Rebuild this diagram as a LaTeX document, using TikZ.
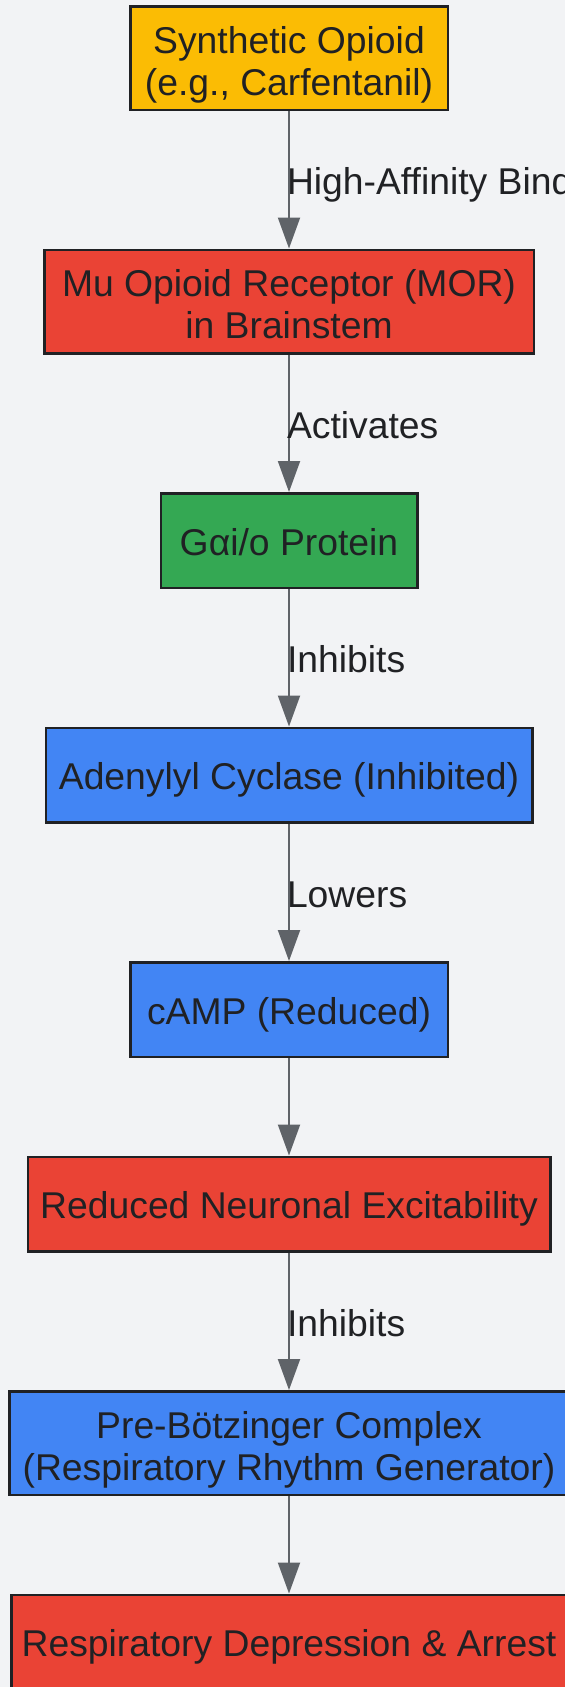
\documentclass[tikz,border=0pt]{standalone}
\usepackage{fontspec}
\setmainfont{Liberation Sans}[Ligatures=CommonOff]
\usepackage{tikz}
\usetikzlibrary{positioning}
\usetikzlibrary{arrows.meta}
\definecolor{bgcol}{HTML}{F2F3F5}
\definecolor{ink}{HTML}{202124}
\definecolor{linkgray}{HTML}{5F6368}
\definecolor{gyellow}{HTML}{FBBC04}
\definecolor{gred}{HTML}{EA4335}
\definecolor{ggreen}{HTML}{34A853}
\definecolor{gblue}{HTML}{4285F4}

\begin{document}
\begin{tikzpicture}[x=1pt,y=-1pt,
	nodebox/.style={draw=ink, line width=2.5pt, text=ink, inner sep=0pt, align=center,
		font=\fontsize{37.3}{42}\selectfont, minimum height=94.5pt,
		text height=29pt, text depth=0pt},
	twoline/.style={minimum height=103.5pt, text height=74pt, text depth=0pt},
	link/.style={draw=linkgray, line width=2pt, -{Triangle[length=31pt,width=22pt]}},
	edgelabel/.style={anchor=west, xshift=-3pt, inner sep=0pt, text=ink,
		font=\fontsize{37.3}{42}\selectfont, text height=30pt, text depth=0pt},
	node distance=137.5pt
	]
	\useasboundingbox (0,0) rectangle (565,1687);
	\fill[bgcol] (0,0) rectangle (565,1687);
	
	\node[nodebox, twoline, fill=gyellow, minimum width=317.5pt] (opioid) at (289,58)
		{Synthetic Opioid\\(e.g., Carfentanil)};
	\node[nodebox, twoline, fill=gred, minimum width=489.5pt, below=of opioid] (mor)
		{Mu Opioid Receptor (MOR)\\in Brainstem};
	\node[nodebox, fill=ggreen, minimum width=256.5pt, below=of mor] (gprot) {Gαi/o Protein};
	\node[nodebox, fill=gblue, minimum width=486.5pt, below=of gprot] (cyclase) {Adenylyl Cyclase (Inhibited)};
	\node[nodebox, fill=gblue, minimum width=317.5pt, below=of cyclase] (camp) {cAMP (Reduced)};
	\node[nodebox, fill=gred, minimum width=522.5pt, below=97.5pt of camp] (excit) {Reduced Neuronal Excitability};
	\node[nodebox, twoline, fill=gblue, minimum width=559.5pt, below=of excit] (preb)
		{Pre-Bötzinger Complex\\(Respiratory Rhythm Generator)};
	\node[nodebox, fill=gred, minimum width=555.5pt, below=97.5pt of preb] (resp) {Respiratory Depression \& Arrest};
	
	\draw[link] (opioid) -- node[edgelabel] {High-Affinity Bind} (mor);
	\draw[link] (mor) -- node[edgelabel] {Activates} (gprot);
	\draw[link] (gprot) -- node[edgelabel] {Inhibits} (cyclase);
	\draw[link] (cyclase) -- node[edgelabel] {Lowers} (camp);
	\draw[link] (camp) -- (excit);
	\draw[link] (excit) -- node[edgelabel] {Inhibits} (preb);
	\draw[link] (preb) -- (resp);
\end{tikzpicture}
\end{document}
